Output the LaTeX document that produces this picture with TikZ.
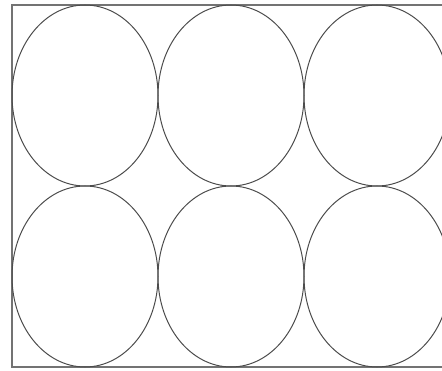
\documentclass[tikz,border=0pt]{standalone}
\usetikzlibrary{shapes.geometric}

\begin{document}
\begin{tikzpicture}[
  x=1pt, y=1pt,
  frame/.style={draw=black!55, line width=1.4pt},
  cell/.style={ellipse, draw=black!70, line width=1pt, inner sep=0pt,
    minimum width=146pt, minimum height=181pt}
]

  % Page size and clipping (right side is cut off)
  \useasboundingbox (0,0) rectangle (442,370);
  \clip (0,0) rectangle (442,370);

  % Outer frame
  \draw[frame] (12,365) rectangle (448,3);

  % Ellipses, 2 rows x 3 columns
  \foreach \col/\x in {1/85,2/231,3/377} {
    \foreach \row/\y in {1/274.5,2/93.5} {
      \node[cell] (cell-\row-\col) at (\x,\y) {};
    }
  }

\end{tikzpicture}
\end{document}
